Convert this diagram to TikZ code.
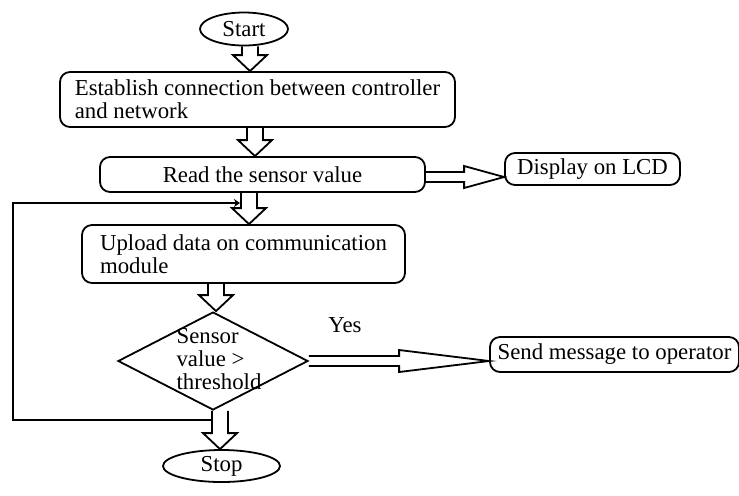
\documentclass[tikz,border=0pt]{standalone}
\usepackage{fontspec}
\setmainfont{Liberation Serif}
\usetikzlibrary{shapes.geometric,calc,arrows.meta}

\begin{document}
\begin{tikzpicture}
    [x=0.5pt,y=-0.5pt,
    every node/.style={font=\fontsize{11.4}{11.5}\selectfont},
    terminal/.style={draw,ellipse,line width=0.9pt,inner sep=0pt},
    process/.style={draw,rounded corners=5pt,line width=0.9pt,align=left,inner ysep=2pt},
    decision/.style={draw,diamond,line width=0.9pt,inner sep=0pt,minimum width=95pt,minimum height=49pt},
    down block/.style={line width=0.9pt,to path={let \p1=(\tikztostart), \p2=(\tikztotarget) in
        (\x1-4pt,\y1) -- (\x1-4pt,\y2+8pt) -- (\x1-8.5pt,\y2+8pt) -- (\x1,\y2)
        -- (\x1+8.5pt,\y2+8pt) -- (\x1+4pt,\y2+8pt) -- (\x1+4pt,\y1)}},
    right block/.style={line width=0.9pt,to path={let \p1=(\tikztostart), \p2=(\tikztotarget) in
        (\x1,\y1+2.5pt) -- (\x2-#1,\y1+2.5pt) -- (\x2-#1,\y1+5.5pt) -- (\x2,\y1)
        -- (\x2-#1,\y1-5.5pt) -- (\x2-#1,\y1-2.5pt) -- (\x1,\y1-2.5pt)}},
    loop line/.style={line width=0.9pt,-{Stealth[length=3pt,width=4pt]}},
    ]

    \useasboundingbox (0,0) rectangle (739,495);

    %terminals and boxes
    \node[terminal,minimum width=44pt,minimum height=16.5pt] (start) at (244,29) {Start};
    \node[process,minimum width=197.5pt,minimum height=27.5pt] (connect) at (257.5,99.5) {Establish connection between controller\\and network};
    \node[process,minimum width=162.5pt,minimum height=17.5pt] (read) at (262.5,174.5) {Read the sensor value};
    \node[process,minimum width=87.5pt,minimum height=16pt] (lcd) at (592.5,169) {Display on LCD};
    \node[process,minimum width=161.5pt,minimum height=29pt] (upload) at (243.5,254) {Upload data on communication\\module};
    \node[decision] (check) at (213,361) {};
    \node[align=left,inner sep=0pt] (checktext) at (219,359) {Sensor\\value >\\threshold};
    \node[process,minimum width=124.5pt,minimum height=17.5pt] (operator) at (614.5,354.5) {Send message to operator};
    \node (yes) at (345,325) {Yes};
    \node[terminal,minimum width=58.5pt,minimum height=16pt] (stop) at (221.5,466) {Stop};

    %block arrows
    \draw[down block] ([xshift=3pt]start.south) to (connect.north);
    \draw[down block] ([xshift=-1.25pt]connect.south) to (read.north);
    \draw[down block] ([xshift=-6.75pt]read.south) to (upload.north);
    \draw[down block] ([xshift=-13.75pt]upload.south) to (check.north);
    \draw[down block] ([xshift=3.5pt]check.south) to (stop.north);
    \draw[right block=20pt] ([yshift=-1.25pt]read.east) to (lcd.west);
    \draw[right block=45pt] (check.east) to (operator.west);

    %feedback loop
    \coordinate (loopout) at (212,420);
    \coordinate (loopin) at (240,203);
    \draw[loop line] (loopout) -- (13,420) |- (loopin);

\end{tikzpicture}
\end{document}
